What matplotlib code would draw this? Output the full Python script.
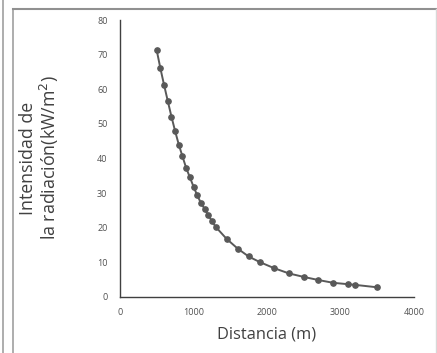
import matplotlib
matplotlib.use("Agg")
import matplotlib.pyplot as plt
from matplotlib.lines import Line2D

distance_m = [500, 550, 600, 650, 700, 750, 800, 850, 900, 950, 1000, 1050, 1100,
              1150, 1200, 1250, 1300, 1450, 1600, 1750, 1900, 2100, 2300, 2500,
              2700, 2900, 3100, 3200, 3500]
intensity = [71.2, 66.0, 61.2, 56.6, 52.1, 47.9, 44.0, 40.6, 37.3, 34.6, 31.9, 29.4,
             27.2, 25.5, 23.6, 22.0, 20.3, 16.8, 14.0, 11.7, 10.1, 8.3, 6.8, 5.8,
             4.9, 4.1, 3.7, 3.5, 2.8]
xticks = [0, 1000, 2000, 3000, 4000]
yticks = [0, 10, 20, 30, 40, 50, 60, 70, 80]

plt.rcParams['font.family'] = ['Open Sans', 'DejaVu Sans']

W, H = 437, 353
fig = plt.figure(figsize=(W / 100, H / 100), dpi=100)
fig.patch.set_facecolor('white')

# outer frame lines
def fl(x0, y0, x1, y1, c='#a0a0a0', lw=1.2):
    fig.add_artist(Line2D([x0 / W, x1 / W], [1 - y0 / H, 1 - y1 / H],
                          transform=fig.transFigure, color=c, lw=lw))
fl(2.5, 0, 2.5, H)
fl(12.5, 9, 12.5, H)
fl(12.5, 9, W, 9, c='#909090', lw=1.5)
fl(436, 9, 436, H, c='#d8d8d8', lw=1.0)

ax = fig.add_axes([120 / W, 1 - 297 / H, (414 - 120) / W, (297 - 20) / H])
ax.plot(distance_m, intensity, color='#595959', lw=1.4, marker='o',
        markersize=3.8, markerfacecolor='#595959', markeredgecolor='#595959')

ax.set_xlim(0, 4000)
ax.set_ylim(0, 80)
ax.set_xticks(xticks)
ax.set_yticks(yticks)
ax.tick_params(axis='both', length=0, labelsize=6.5, colors='#505050')
ax.tick_params(axis='x', pad=8)
ax.tick_params(axis='y', pad=9)
for s in ['top', 'right']:
    ax.spines[s].set_visible(False)
ax.spines['left'].set_color('#404040')
ax.spines['bottom'].set_color('#404040')
ax.spines['left'].set_linewidth(1.0)
ax.spines['bottom'].set_linewidth(1.0)

ax.set_xlabel('Distancia (m)', fontsize=11.8, color='#404040', labelpad=7)
fig.text(40 / W, 1 - 158 / H, 'Intensidad de\nla radiación(kW/m$^2$)', rotation=90,
         ha='center', va='center', fontsize=12.8, color='#404040',
         multialignment='center', linespacing=1.05)

fig.savefig('out.png', dpi=100, facecolor='white')
